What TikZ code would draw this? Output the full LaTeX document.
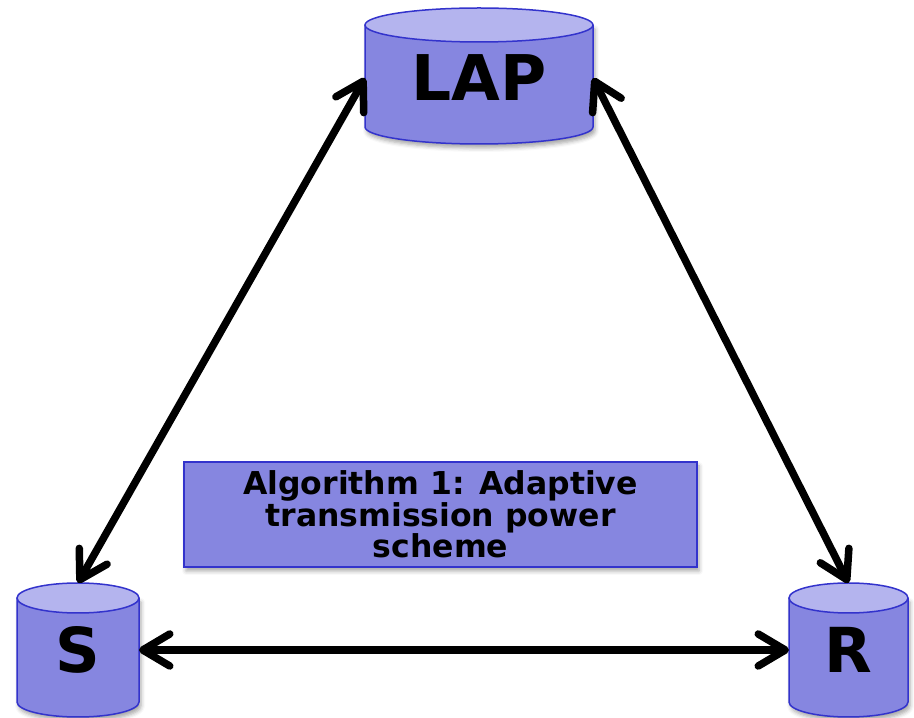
\documentclass[tikz,border=0pt]{standalone}
\usepackage{fontspec}
\setmainfont{DejaVu Sans}
\usetikzlibrary{arrows.meta,shadows.blur}

\definecolor{cylbody}{RGB}{134,134,224}
\definecolor{cyltop}{RGB}{180,180,238}
\definecolor{cyledge}{RGB}{51,51,204}

\tikzset{
  cylline/.style={draw=cyledge, line width=1.5pt},
  softshadow/.style={blur shadow={shadow xshift=2pt, shadow yshift=-4pt, shadow blur radius=4pt, shadow opacity=35}},
  cyllabel/.style={inner sep=0pt, outer sep=0pt, font=\bfseries\fontsize{62}{62}\selectfont},
  algbox/.style={draw=cyledge, line width=1.5pt, fill=cylbody, softshadow,
    minimum width=513pt, minimum height=105pt, inner sep=0pt, align=center,
    font=\bfseries\fontsize{31.5}{29.5}\selectfont},
  barb/.tip={Straight Barb[length=27pt,width=32pt,round]},
  link/.style={line width=7.5pt, barb-barb}
}

% database cylinder: left x, right x, top ellipse centre y, bottom ellipse centre y, half height of the ends
\newcommand\dbcylinder[5]{%
  \pgfmathsetmacro\cylrx{(#2-#1)/2}%
  \pgfmathsetmacro\cylcx{(#1+#2)/2}%
  \path[softshadow, fill=cylbody] (#1,#3) -- (#1,#4)
    arc[start angle=180, end angle=360, x radius=\cylrx pt, y radius=#5pt] -- (#2,#3) -- cycle;
  \draw[cylline] (#1,#3) -- (#1,#4)
    arc[start angle=180, end angle=360, x radius=\cylrx pt, y radius=#5pt] -- (#2,#3);
  \filldraw[cylline, fill=cyltop] (\cylcx,#3) ellipse[x radius=\cylrx pt, y radius=#5pt];
}

\begin{document}
\begin{tikzpicture}[x=1pt, y=1pt]
  \useasboundingbox (0,0) rectangle (914,718);

  % the three stations
  \dbcylinder{365}{593}{693}{591}{17}
  \dbcylinder{17}{139}{120}{16}{15}
  \dbcylinder{789}{908}{120}{16}{15}

  \node[cyllabel, minimum width=228pt, minimum height=136pt, font=\bfseries\fontsize{63}{63}\selectfont] (lap) at (479,640) {LAP};
  \node[cyllabel, minimum width=122pt, minimum height=134pt] (s) at (78,68) {S};
  \node[cyllabel, minimum width=119pt, minimum height=134pt] (r) at (848.5,68) {R};

  % algorithm box
  \node[algbox] (alg) at (440.5,203.5) {Algorithm 1: Adaptive\\transmission power\\scheme};

  % links between the stations
  \draw[link] (lap.west) -- (s.north);
  \draw[link] (lap.east) -- (r.north);
  \draw[link] (s.east) -- (r.west);
\end{tikzpicture}
\end{document}
